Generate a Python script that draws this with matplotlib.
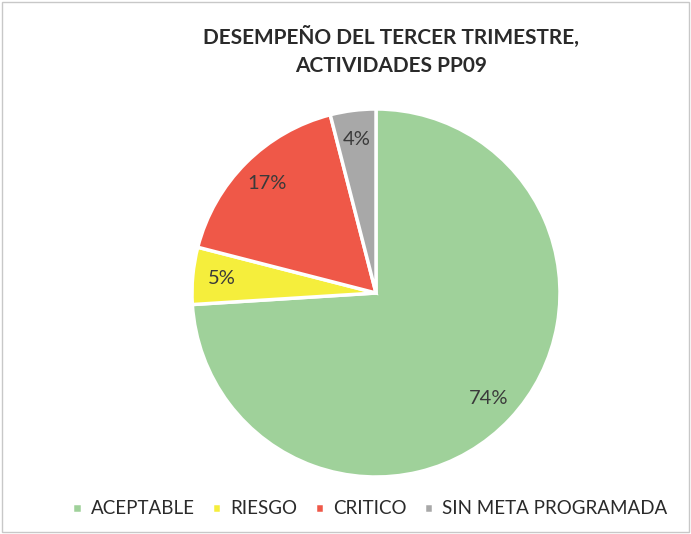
import matplotlib.pyplot as plt
from matplotlib.patches import Rectangle

# Datos del gráfico
categorias = ['ACEPTABLE', 'RIESGO', 'CRITICO', 'SIN META PROGRAMADA']
porcentajes = [74, 5, 17, 4]
colores = ['#9fd19a', '#f5ee3c', '#ef5848', '#a8a8a8']

plt.rcParams['font.family'] = ['Lato', 'DejaVu Sans']

W, H = 691, 534
fig = plt.figure(figsize=(W / 100, H / 100), dpi=100)

# pastel centrado en (376, 293) px con radio 184 px
cx, cy, r = 376, 293, 184
ax = fig.add_axes([(cx - r) / W, 1 - (cy + r) / H, 2 * r / W, 2 * r / H])
wedges, texts, autotexts = ax.pie(
    porcentajes, colors=colores, startangle=90, counterclock=False,
    autopct='%1.0f%%', pctdistance=0.84, radius=1,
    wedgeprops=dict(edgecolor='white', linewidth=2.5),
    textprops=dict(fontsize=14.5, color='#3a3a3a'))
ax.set_xlim(-1, 1)
ax.set_ylim(-1, 1)
ax.set_aspect('equal')

fig.text(391 / W, 1 - 51 / H, 'DESEMPEÑO DEL TERCER TRIMESTRE,\nACTIVIDADES PP09',
         ha='center', va='center', fontsize=15, fontweight='bold',
         color='#2a2a2a', linespacing=1.45)

fig.legend(wedges, categorias, loc='center', bbox_to_anchor=(370 / W, 1 - 509 / H),
           ncol=4, frameon=False, fontsize=13.5, handlelength=0.5, handleheight=0.5,
           handletextpad=0.5, columnspacing=0.9, labelcolor='#2a2a2a')

# marco exterior del gráfico
fig.patches.append(Rectangle((0.003, 0.003), 0.994, 0.994, transform=fig.transFigure,
                             fill=False, edgecolor='#c8c8c8', linewidth=1))

plt.savefig('out.png', dpi=100)
